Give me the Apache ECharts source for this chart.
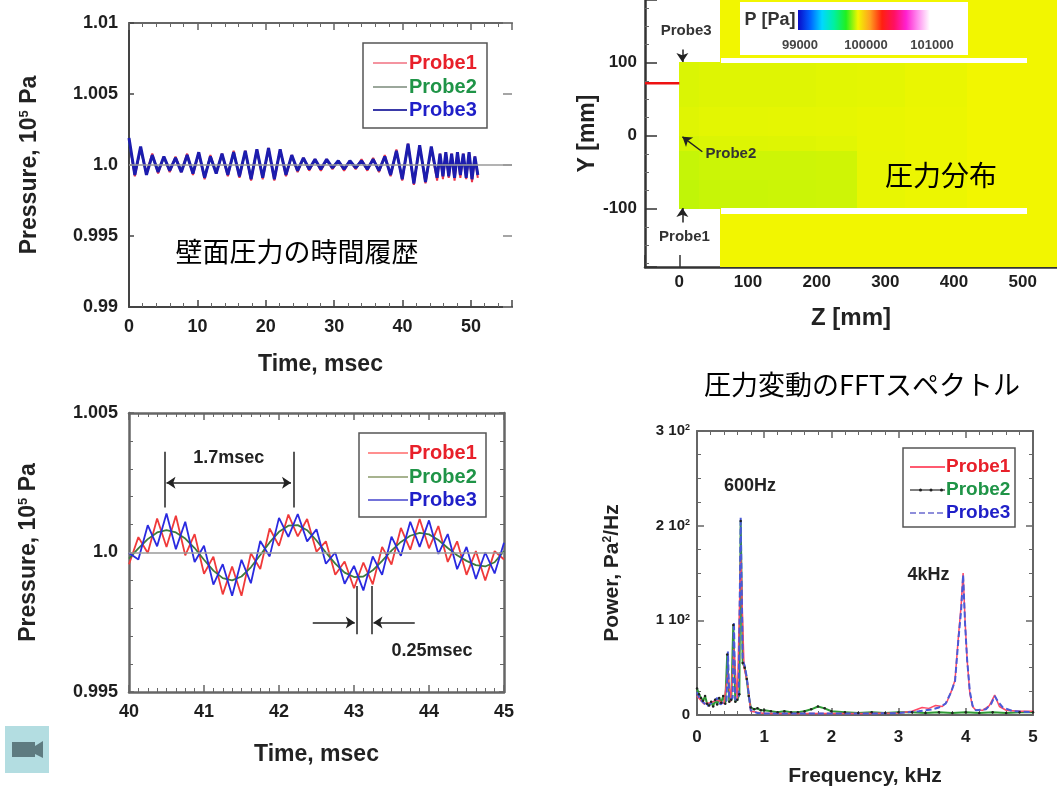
<!DOCTYPE html>
<html><head><meta charset="utf-8">
<script src="https://cdn.jsdelivr.net/npm/echarts@6/dist/echarts.min.js"></script>
<style>html,body{margin:0;padding:0;background:#fff}#c{width:1057px;height:794px}</style>
</head><body><div id="c"></div>
<script>
// ---------------- DATA ----------------
const probeNames = ['Probe1', 'Probe2', 'Probe3'];

// Panel 1: wall pressure history, 0-51 msec (x 10^5 Pa)
const timeTop = [0, 0.85, 1.7, 2.55, 3.4, 4.25, 5.1, 5.95, 6.8, 7.65, 8.5, 9.35, 10.2, 11.05, 11.9, 12.75, 13.6, 14.45, 15.3, 16.15, 17, 17.85, 18.7, 19.55, 20.4, 21.25, 22.1, 22.95, 23.8, 24.65, 25.5, 26.35, 27.2, 28.05, 28.9, 29.75, 30.6, 31.45, 32.3, 33.15, 34, 34.85, 35.7, 36.55, 37.4, 38.25, 39.1, 39.95, 40.8, 41.65, 42.5, 43.35, 44.2, 45.05, 45.475, 45.9, 46.325, 46.75, 47.175, 47.6, 48.025, 48.45, 48.875, 49.3, 49.725, 50.15, 50.575, 51];
const topProbe1 = [1.0018, 0.9992, 1.0012, 0.9994, 1.0008, 0.9994, 1.0006, 0.9995, 1.0006, 0.9995,
  1.0008, 0.9993, 1.0009, 0.9990, 1.0007, 0.9994, 1.0008, 0.9992, 1.0010, 0.9991,
  1.0010, 0.9989, 1.0011, 0.9990, 1.0012, 0.9989, 1.0011, 0.9992, 1.0007, 0.9995,
  1.0005, 0.9996, 1.0004, 0.9996, 1.0004, 0.9997, 1.0003, 0.9996, 1.0003, 0.9997,
  1.0004, 0.9996, 1.0005, 0.9995, 1.0007, 0.9992, 1.0011, 0.9989, 1.0015, 0.9986,
  1.0014, 0.9987, 1.0012, 0.9989, 1.0008, 0.9990, 1.0009, 0.9991, 1.0008, 0.9989,
  1.0009, 0.9991, 1.0008, 0.9990, 1.0009, 0.9988, 1.0006, 0.9991];
const topProbe2 = [1.0016, 0.9994, 1.0011, 0.9994, 1.0006, 0.9996, 1.0005, 0.9996, 1.0005, 0.9996,
  1.0006, 0.9995, 1.0008, 0.9992, 1.0006, 0.9995, 1.0007, 0.9994, 1.0008, 0.9993,
  1.0009, 0.9991, 1.0010, 0.9992, 1.0010, 0.9991, 1.0010, 0.9994, 1.0006, 0.9996,
  1.0004, 0.9997, 1.0003, 0.9997, 1.0003, 0.9998, 1.0003, 0.9997, 1.0003, 0.9998,
  1.0003, 0.9997, 1.0004, 0.9996, 1.0005, 0.9994, 1.0009, 0.9991, 1.0013, 0.9988,
  1.0012, 0.9989, 1.0011, 0.9992, 1.0006, 0.9993, 1.0007, 0.9994, 1.0006, 0.9993,
  1.0007, 0.9994, 1.0006, 0.9993, 1.0007, 0.9992, 1.0005, 0.9994];
const topProbe3 = [1.0019, 0.9993, 1.0013, 0.9993, 1.0007, 0.9995, 1.0006, 0.9996, 1.0005, 0.9995,
  1.0007, 0.9994, 1.0009, 0.9991, 1.0006, 0.9994, 1.0008, 0.9993, 1.0009, 0.9992,
  1.0010, 0.9990, 1.0011, 0.9991, 1.0012, 0.9990, 1.0011, 0.9993, 1.0007, 0.9996,
  1.0005, 0.9997, 1.0004, 0.9997, 1.0004, 0.9998, 1.0003, 0.9997, 1.0003, 0.9998,
  1.0003, 0.9997, 1.0004, 0.9996, 1.0006, 0.9993, 1.0010, 0.9990, 1.0015, 0.9987,
  1.0014, 0.9988, 1.0013, 0.9991, 1.0008, 0.9992, 1.0009, 0.9992, 1.0008, 0.9991,
  1.0009, 0.9993, 1.0008, 0.9991, 1.0009, 0.9990, 1.0006, 0.9993];
const topXTicks = [0, 10, 20, 30, 40, 50];
const topYTicks = [0.99, 0.995, 1.0, 1.005, 1.01];
const topYTickLabels = ['0.99', '0.995', '1.0', '1.005', '1.01'];

// Panel 2: zoomed history 40-45 msec
const timeZoom = [40, 40.125, 40.25, 40.375, 40.5, 40.625, 40.75, 40.875, 41, 41.125, 41.25, 41.375, 41.5, 41.625, 41.75, 41.875, 42, 42.125, 42.25, 42.375, 42.5, 42.625, 42.75, 42.875, 43, 43.125, 43.25, 43.375, 43.5, 43.625, 43.75, 43.875, 44, 44.125, 44.25, 44.375, 44.5, 44.625, 44.75, 44.875, 45];
const zoomProbe1 = [0.99958, 1.00055, 0.99998, 1.00122, 1.00020, 1.00132, 0.99990, 1.00066, 0.99924, 0.99985, 0.99850, 0.99950, 0.99845, 0.99997, 0.99941, 1.00086, 1.00024, 1.00136, 1.00058, 1.00120, 1.00003, 1.00040, 0.99920, 0.99968, 0.99872, 0.99964, 0.99886, 1.00020, 0.99957, 1.00088, 1.00010, 1.00120, 1.00015, 1.00095, 0.99966, 1.00040, 0.99920, 1.00005, 0.99900, 1.00005, 0.99975];
const zoomProbe2 = [0.99978, 1.00015, 1.00048, 1.00072, 1.00080, 1.00072, 1.00050, 1.00016, 0.99974, 0.99935, 0.99908, 0.99900, 0.99914, 0.99947, 0.99991, 1.00036, 1.00074, 1.00096, 1.00098, 1.00080, 1.00043, 1.00000, 0.99960, 0.99928, 0.99912, 0.99914, 0.99936, 0.99970, 1.00007, 1.00038, 1.00060, 1.00070, 1.00065, 1.00045, 1.00016, 0.99990, 0.99970, 0.99955, 0.99950, 0.99965, 1.00005];
const zoomProbe3 = [0.99998, 0.99975, 1.00098, 1.00022, 1.00140, 1.00012, 1.00110, 0.99966, 1.00024, 0.99885, 0.99958, 0.99845, 0.99974, 0.99890, 1.00041, 0.99986, 1.00124, 1.00056, 1.00138, 1.00040, 1.00083, 0.99960, 1.00000, 0.99888, 0.99952, 0.99864, 0.99986, 0.99920, 1.00057, 0.99988, 1.00110, 1.00020, 1.00115, 0.99995, 1.00066, 0.99940, 1.00020, 0.99905, 1.00000, 0.99925, 1.00035];
const zoomXTicks = [40, 41, 42, 43, 44, 45];
const zoomYTicks = [0.995, 1.0, 1.005];
const zoomYTickLabels = ['0.995', '1.0', '1.005'];
// annotation segments [t1, p1, t2, p2, startSymbol, endSymbol]
const periodGuides = [
  [40.47, 1.00361, 40.47, 1.00161, 'none', 'none'],
  [42.19, 1.00361, 42.19, 1.00161, 'none', 'none'],
  [40.50, 1.00250, 42.16, 1.00250, 'arrow', 'arrow'],
  [43.03, 0.99880, 43.03, 0.99707, 'none', 'none'],
  [43.24, 0.99880, 43.24, 0.99707, 'none', 'none'],
  [42.45, 0.99749, 43.01, 0.99749, 'none', 'arrow'],
  [43.81, 0.99749, 43.26, 0.99749, 'none', 'arrow']
];
const periodLabels = ['1.7msec', '0.25msec'];
const periodLabelT = [41.33, 44.04];
const periodLabelP = [1.00339, 0.99647];

// Panel 3: pressure distribution (Z [mm], Y [mm], P [Pa])
const zEdges = [0, 30, 60, 130, 200, 260, 330, 420, 505, 550];
const yEdges = [-180, -100, -60, -20, 0, 40, 100, 186];
const pressureRows = [
  [null, null, 99910, 99910, 99910, 99910, 99910, 99910, 99910],
  [99866, 99872, 99874, 99875, 99877, 99900, 99904, 99910, 99910],
  [99870, 99875, 99877, 99877, 99879, 99900, 99904, 99910, 99910],
  [99884, 99889, 99891, 99892, 99894, 99901, 99904, 99910, 99910],
  [99893, 99896, 99897, 99898, 99899, 99901, 99904, 99910, 99910],
  [99888, 99892, 99893, 99893, 99895, 99897, 99902, 99910, 99910],
  [null, null, 99910, 99910, 99910, 99910, 99910, 99910, 99910]
];
const wallCells = [[62, 505, 100, 106], [62, 505, -106, -100]]; // [z0, z1, y0, y1]
const inletLineZ = [-50, 0];
const inletLineY = [72, 72];
const zTicks = [0, 100, 200, 300, 400, 500];
const yTicks = [-100, 0, 100];
const probeArrows = [[4.4, 118, 4.4, 101], [4.4, -119, 4.4, -99], [33.5, -22, 4.5, -1.5]];
const probeLabelText = ['Probe3', 'Probe2', 'Probe1'];
const probeLabelZ = [10, 75, 7.5];
const probeLabelY = [144, -25, -138];
const colorbarTicks = [99000, 100000, 101000];
const pMin = 99000, pMax = 101000;

// Panel 4: FFT spectrum (kHz, Pa^2/Hz)
const fftFreqP1 = [0, 0.1, 0.2, 0.3, 0.4, 0.46, 0.5, 0.55, 0.6, 0.65, 0.7, 0.75, 0.8, 1.0, 1.5, 2.0, 2.5, 3.0, 3.2, 3.35, 3.45, 3.55, 3.65, 3.72, 3.79, 3.84, 3.89, 3.93, 3.96, 3.99, 4.02, 4.06, 4.1, 4.15, 4.25, 4.35, 4.43, 4.5, 4.6, 4.8, 5.0];
const fftPowerP1 = [20, 12, 13, 16, 12, 45, 14, 70, 15, 170, 50, 35, 4, 1.5, 1.5, 1.5, 1.5, 2, 4, 8, 7, 10, 9, 14, 26, 37, 83, 115, 150, 98, 58, 23, 9, 5, 5, 10, 21, 9, 5, 4, 4];
const fftFreqP2 = [0, 0.03, 0.06, 0.09, 0.12, 0.15, 0.18, 0.21, 0.24, 0.27, 0.3, 0.33, 0.36, 0.39, 0.42, 0.45, 0.48, 0.51, 0.54, 0.57, 0.6, 0.63, 0.65, 0.68, 0.71, 0.74, 0.77, 0.8, 0.85, 0.9, 0.95, 1.0, 1.1, 1.2, 1.3, 1.4, 1.5, 1.6, 1.7, 1.8, 1.9, 2.0, 2.2, 2.4, 2.6, 2.8, 3.0, 3.2, 3.4, 3.6, 3.8, 4.0, 4.2, 4.4, 4.6, 4.8, 5.0];
const fftPowerP2 = [28, 22, 18, 15, 20, 12, 10, 14, 9, 16, 11, 18, 13, 20, 12, 64, 14, 16, 95, 14, 16, 22, 205, 55, 50, 38, 20, 8, 6, 7, 5, 5, 4, 3, 4, 3, 3, 4, 6, 9, 7, 4, 3, 2, 3, 2, 3, 3, 2, 3, 2, 3, 2, 3, 2, 3, 3];
const fftFreqP3 = [0, 0.05, 0.1, 0.15, 0.2, 0.25, 0.3, 0.35, 0.4, 0.44, 0.46, 0.48, 0.5, 0.53, 0.55, 0.57, 0.6, 0.62, 0.65, 0.68, 0.71, 0.74, 0.77, 0.8, 0.9, 1.0, 1.5, 2.0, 2.5, 3.0, 3.3, 3.5, 3.6, 3.7, 3.78, 3.84, 3.89, 3.93, 3.96, 3.99, 4.02, 4.06, 4.1, 4.15, 4.3, 4.38, 4.43, 4.48, 4.55, 4.7, 5.0];
const fftPowerP3 = [24, 16, 13, 9, 12, 14, 18, 11, 14, 15, 67, 16, 15, 18, 98, 16, 16, 20, 209, 58, 52, 40, 22, 5, 2, 1.5, 1.5, 1.5, 1.5, 2, 4, 6, 8, 12, 24, 36, 80, 110, 148, 95, 58, 25, 10, 5, 6, 12, 20, 14, 8, 4, 3];
const fftXTicks = [0, 1, 2, 3, 4, 5];
const fftYTicks = [0, 100, 200, 300];
const fftYTickLabels = ['0', '1 10{s|2}', '2 10{s|2}', '3 10{s|2}'];
const peakLabels = ['600Hz', '4kHz'];
const peakLabelF = [0.79, 3.445];
const peakLabelP = [242, 148];

// ---------------- STYLE / HELPERS ----------------
const FONT = "'Liberation Sans', Arial, Helvetica, sans-serif";
const JP = "'Noto Sans CJK JP', 'Noto Sans CJK SC', sans-serif";
const pressureColors = ['#0a0ac8', '#0060ff', '#00d8ff', '#00f0a0', '#20f020', '#f2f600', '#ffa020', '#ff2010', '#ff1060', '#ff20d0', '#ff90f0', '#ffffff'];

const zip = (xs, ys) => xs.map((x, i) => [x, ys[i]]);
const fromList = (ticks, labels) => v => {
  const i = ticks.findIndex(t => Math.abs(t - v) < 1e-7);
  return i >= 0 ? (labels ? labels[i] : String(ticks[i])) : '';
};
const bold = (size, extra) => Object.assign({ fontFamily: FONT, fontWeight: 'bold', fontSize: size, color: '#1e1e1e' }, extra || {});

function axis(o) {
  const base = {
    type: 'value', splitLine: { show: false },
    axisLine: { show: true, onZero: false, lineStyle: { color: o.lineColor || '#444', width: o.lineWidth || 2 } },
    axisTick: { show: true, inside: true, length: o.tickLen || 7, lineStyle: { color: o.lineColor || '#444', width: 1.5 } },
    minorTick: { show: !!o.minor, splitNumber: o.minor || 5, length: 4, lineStyle: { color: '#666', width: 1 } },
    axisLabel: o.labels ? Object.assign(bold(o.labelSize || 18), { margin: o.margin || 10, formatter: o.labels }, o.labelExtra || {}) : { show: false }
  };
  const out = Object.assign(base, o.spec);
  if (o.noLine) out.axisLine.show = false;
  return out;
}

function legendBox(box, rows, font, lineX1, lineX2, textX) {
  const els = [{ type: 'rect', z: 100, shape: { x: box[0], y: box[1], width: box[2], height: box[3] }, style: { fill: '#fff', stroke: '#555', lineWidth: 1.5 } }];
  rows.forEach(r => {
    els.push({ type: 'line', z: 101, shape: { x1: lineX1, y1: r.y, x2: lineX2, y2: r.y }, style: { stroke: r.line, lineWidth: r.w || 1.5, lineDash: r.dash || null } });
    if (r.dots) {
      [0.3, 0.6, 0.9].forEach(f => els.push({ type: 'circle', z: 102, shape: { cx: lineX1 + (lineX2 - lineX1) * f, cy: r.y, r: 1.5 }, style: { fill: '#222' } }));
    }
    els.push({ type: 'text', z: 101, x: textX, y: r.y, style: { text: r.name, fill: r.color, font: font, align: 'left', textAlign: 'left', verticalAlign: 'middle', textVerticalAlign: 'middle' } });
  });
  return els;
}
function jpText(text, x, y, size) {
  return { type: 'text', z: 110, x: x, y: y, style: { text: text, fill: '#000', font: size + 'px ' + JP, align: 'center', textAlign: 'center', verticalAlign: 'middle', textVerticalAlign: 'middle' } };
}

// contour cells built from the edge/pressure tables
const cells = [];
pressureRows.forEach((row, r) => row.forEach((p, c) => {
  if (p != null) cells.push([zEdges[c], zEdges[c + 1], yEdges[r], yEdges[r + 1], p]);
}));
function cellRect(api, fill) {
  const a = api.coord([api.value(0), api.value(3)]);
  const b = api.coord([api.value(1), api.value(2)]);
  const x0 = Math.floor(a[0]), y0 = Math.floor(a[1]), x1 = Math.ceil(b[0]), y1 = Math.ceil(b[1]);
  return { type: 'rect', shape: { x: x0, y: y0, width: x1 - x0, height: y1 - y0 }, style: { fill: fill } };
}

const refLine = v => ({ silent: true, symbol: ['none', 'none'], label: { show: false }, emphasis: { disabled: true },
  lineStyle: { color: '#9a9a9a', width: 1.5, type: 'solid' }, data: [{ yAxis: v }] });
const segLines = (segs, color, width) => ({ silent: true, symbolSize: 9, label: { show: false }, emphasis: { disabled: true },
  lineStyle: { color: color, width: width, type: 'solid' },
  data: segs.map(s => [{ coord: [s[0], s[1]], symbol: s[4] || 'none' }, { coord: [s[2], s[3]], symbol: s[5] || 'arrow' }]) });
const textPoints = (names, xs, ys, size, color) => ({ silent: true, symbol: 'circle', symbolSize: 0, itemStyle: { color: 'rgba(0,0,0,0)' },
  label: { show: true, position: 'inside', formatter: '{b}', fontFamily: FONT, fontWeight: 'bold', fontSize: size, color: color },
  data: names.map((n, i) => ({ name: n, coord: [xs[i], ys[i]] })) });

const nameStyle = (size) => Object.assign(bold(size, { color: '#222' }), {
  rich: { s: { fontFamily: FONT, fontWeight: 'bold', fontSize: Math.round(size * 0.55), color: '#222', verticalAlign: 'top', lineHeight: 10 } }
});

// ---------------- OPTION ----------------
const chart = echarts.init(document.getElementById('c'), null, { renderer: 'canvas' });
const option = {
  animation: false,
  backgroundColor: '#fff',
  grid: [
    { left: 129, top: 23, width: 383, height: 284, outerBoundsMode: 'none' },
    { left: 129, top: 413, width: 375, height: 279, outerBoundsMode: 'none' },
    { left: 645, top: 0, width: 412, height: 267, outerBoundsMode: 'none' },
    { left: 697, top: 431, width: 336, height: 284, outerBoundsMode: 'none' }
  ],
  xAxis: [
    axis({ labels: fromList(topXTicks), margin: 11, minor: 5, spec: { gridIndex: 0, position: 'bottom', min: 0, max: 56, interval: 10,
      name: 'Time, msec', nameLocation: 'middle', nameGap: 46, nameTextStyle: nameStyle(23) } }),
    axis({ minor: 5, lineColor: '#666', spec: { gridIndex: 0, position: 'top', min: 0, max: 56, interval: 10 } }),
    axis({ labels: fromList(zoomXTicks), margin: 11, minor: 8, lineColor: '#666', lineWidth: 2.5, spec: { gridIndex: 1, position: 'bottom', min: 40, max: 45, interval: 1,
      name: 'Time, msec', nameLocation: 'middle', nameGap: 51, nameTextStyle: nameStyle(23) } }),
    axis({ minor: 8, lineColor: '#666', lineWidth: 2.5, spec: { gridIndex: 1, position: 'top', min: 40, max: 45, interval: 1 } }),
    axis({ labels: fromList(zTicks), labelSize: 17, margin: 7, tickLen: 12, lineColor: '#333', lineWidth: 2.5, spec: { gridIndex: 2, position: 'bottom', min: -50, max: 550,
      name: 'Z [mm]', nameLocation: 'middle', nameGap: 39, nameTextStyle: nameStyle(24) } }),
    axis({ labels: fromList(fftXTicks), labelSize: 17, margin: 14, minor: 5, lineColor: '#666', spec: { gridIndex: 3, position: 'bottom', min: 0, max: 5, interval: 1,
      name: 'Frequency, kHz', nameLocation: 'middle', nameGap: 51, nameTextStyle: nameStyle(21) } }),
    axis({ minor: 5, lineColor: '#666', spec: { gridIndex: 3, position: 'top', min: 0, max: 5, interval: 1 } })
  ],
  yAxis: [
    axis({ labels: fromList(topYTicks, topYTickLabels), margin: 11, tickLen: 5, spec: { gridIndex: 0, position: 'left', min: 0.99, max: 1.01, interval: 0.005,
      name: 'Pressure, 10{s|5} Pa', nameLocation: 'middle', nameGap: 88, nameTextStyle: nameStyle(23) } }),
    axis({ noLine: true, tickLen: 9, lineColor: '#888', spec: { gridIndex: 0, position: 'right', min: 0.99, max: 1.01, interval: 0.005 } }),
    axis({ labels: fromList(zoomYTicks, zoomYTickLabels), margin: 11, tickLen: 5, minor: 5, lineColor: '#666', lineWidth: 2.5, spec: { gridIndex: 1, position: 'left', min: 0.995, max: 1.005, interval: 0.005,
      name: 'Pressure, 10{s|5} Pa', nameLocation: 'middle', nameGap: 89, nameTextStyle: nameStyle(23) } }),
    axis({ tickLen: 5, minor: 5, lineColor: '#666', lineWidth: 2.5, spec: { gridIndex: 1, position: 'right', min: 0.995, max: 1.005, interval: 0.005 } }),
    axis({ labels: fromList(yTicks), labelSize: 17, margin: 8, tickLen: 12, minor: 4, lineColor: '#333', lineWidth: 2.5, spec: { gridIndex: 2, position: 'left', min: -180, max: 186,
      name: 'Y [mm]', nameLocation: 'middle', nameGap: 46, nameTextStyle: nameStyle(23) } }),
    axis({ labels: fromList(fftYTicks, fftYTickLabels), labelSize: 15, margin: 7, minor: 4, lineColor: '#666',
      labelExtra: { rich: { s: { fontFamily: FONT, fontWeight: 'bold', fontSize: 9, color: '#1e1e1e', verticalAlign: 'top', lineHeight: 9 } } },
      spec: { gridIndex: 3, position: 'left', min: 0, max: 300, interval: 100,
      name: 'Power, Pa{s|2}/Hz', nameLocation: 'middle', nameGap: 74, nameTextStyle: nameStyle(21) } }),
    axis({ minor: 4, lineColor: '#666', spec: { gridIndex: 3, position: 'right', min: 0, max: 300, interval: 100 } })
  ],
  visualMap: [{ type: 'continuous', show: false, seriesIndex: 6, dimension: 4, min: pMin, max: pMax, inRange: { color: pressureColors } }],
  series: [
    // panel 1
    { name: probeNames[0], type: 'line', xAxisIndex: 0, yAxisIndex: 0, data: zip(timeTop, topProbe1), symbol: 'none', lineStyle: { color: '#e8334a', width: 2 }, markLine: refLine(1.0) },
    { name: probeNames[1], type: 'line', xAxisIndex: 0, yAxisIndex: 0, data: zip(timeTop, topProbe2), symbol: 'none', lineStyle: { color: '#2e8b3a', width: 2 } },
    { name: probeNames[2], type: 'line', xAxisIndex: 0, yAxisIndex: 0, data: zip(timeTop, topProbe3), symbol: 'none', lineStyle: { color: '#1c1cae', width: 3 } },
    // panel 2
    { name: probeNames[0], type: 'line', xAxisIndex: 2, yAxisIndex: 2, data: zip(timeZoom, zoomProbe1), symbol: 'none', lineStyle: { color: '#f03a3a', width: 1.8 }, markLine: refLine(1.0) },
    { name: probeNames[1], type: 'line', xAxisIndex: 2, yAxisIndex: 2, data: zip(timeZoom, zoomProbe2), symbol: 'none', lineStyle: { color: '#3d7a3d', width: 1.8 } },
    { name: probeNames[2], type: 'line', xAxisIndex: 2, yAxisIndex: 2, data: zip(timeZoom, zoomProbe3), symbol: 'none', lineStyle: { color: '#2a2ae0', width: 1.8 },
      markLine: segLines(periodGuides, '#222', 1.5), markPoint: textPoints(periodLabels, periodLabelT, periodLabelP, 18, '#222') },
    // panel 3
    { name: 'P', type: 'custom', xAxisIndex: 4, yAxisIndex: 4, data: cells, encode: { x: [0, 1], y: [2, 3] }, clip: true,
      renderItem: (params, api) => cellRect(api, api.visual('color')) },
    { name: 'wall', type: 'custom', xAxisIndex: 4, yAxisIndex: 4, data: wallCells, encode: { x: [0, 1], y: [2, 3] }, clip: true,
      renderItem: (params, api) => cellRect(api, '#ffffff') },
    { name: 'inlet', type: 'line', xAxisIndex: 4, yAxisIndex: 4, data: zip(inletLineZ, inletLineY), symbol: 'none', lineStyle: { color: '#ee1111', width: 2.5 },
      markLine: segLines(probeArrows, '#222', 1.5), markPoint: textPoints(probeLabelText, probeLabelZ, probeLabelY, 15, '#333') },
    // panel 4
    { name: probeNames[1], type: 'line', xAxisIndex: 5, yAxisIndex: 5, data: zip(fftFreqP2, fftPowerP2), symbol: 'circle', symbolSize: 2.5, showSymbol: true,
      itemStyle: { color: '#222' }, lineStyle: { color: '#2f9a35', width: 2 } },
    { name: probeNames[0], type: 'line', xAxisIndex: 5, yAxisIndex: 5, data: zip(fftFreqP1, fftPowerP1), symbol: 'none', lineStyle: { color: '#ff4a66', width: 1.5 },
      markPoint: textPoints(peakLabels, peakLabelF, peakLabelP, 18, '#222') },
    { name: probeNames[2], type: 'line', xAxisIndex: 5, yAxisIndex: 5, data: zip(fftFreqP3, fftPowerP3), symbol: 'none', lineStyle: { color: '#4a5ad8', width: 2, type: [6, 3] } }
  ],
  graphic: { elements: [] }
};

// legends
const g = option.graphic.elements;
const f20 = 'bold 20px ' + FONT, f19 = 'bold 19px ' + FONT;
g.push(...legendBox([363, 43, 124, 85], [
  { y: 63, name: probeNames[0], color: '#e8202a', line: '#f07080' },
  { y: 87, name: probeNames[1], color: '#1f9447', line: '#7a8a7a' },
  { y: 110, name: probeNames[2], color: '#1f1fc8', line: '#3a3aa8', w: 2 }
], f20, 373, 407, 409));
g.push(...legendBox([359, 433, 127, 84], [
  { y: 453, name: probeNames[0], color: '#e8202a', line: '#ff6a6a' },
  { y: 477, name: probeNames[1], color: '#1f9447', line: '#8a9a6a' },
  { y: 500, name: probeNames[2], color: '#1f1fc8', line: '#4444cc' }
], f20, 368, 408, 409));
g.push(...legendBox([903, 448, 112, 79], [
  { y: 467, name: probeNames[0], color: '#e8202a', line: '#ff5a70', w: 2 },
  { y: 490, name: probeNames[1], color: '#1f9447', line: '#555', dots: true },
  { y: 513, name: probeNames[2], color: '#1f1fc8', line: '#6a6ad0', dash: [6, 3] }
], f19, 910, 945, 946));

// colour bar legend of the pressure map
const barX = 798, barY = 10, barW = 132, barH = 20;
g.push({ type: 'rect', z: 100, shape: { x: 740, y: 2, width: 228, height: 53 }, style: { fill: '#fff' } });
g.push({ type: 'text', z: 101, x: 770, y: 20, style: { text: 'P [Pa]', fill: '#333', font: 'bold 18px ' + FONT, align: 'center', textAlign: 'center', verticalAlign: 'middle', textVerticalAlign: 'middle' } });
g.push({ type: 'rect', z: 101, shape: { x: barX, y: barY, width: barW, height: barH },
  style: { fill: new echarts.graphic.LinearGradient(0, 0, 1, 0, pressureColors.map((c, i) => ({ offset: i / (pressureColors.length - 1), color: c }))) } });
colorbarTicks.forEach(v => g.push({ type: 'text', z: 101, x: barX + (v - pMin) / (pMax - pMin) * barW + 2, y: 45,
  style: { text: String(v), fill: '#444', font: 'bold 13px ' + FONT, align: 'center', textAlign: 'center', verticalAlign: 'middle', textVerticalAlign: 'middle' } }));

// Japanese captions
g.push(jpText('壁面圧力の時間履歴', 297, 252, 27));
g.push(jpText('圧力分布', 941, 175, 28));
g.push(jpText('圧力変動のFFTスペクトル', 862, 385, 27));

// small camera icon
g.push({ type: 'rect', z: 100, shape: { x: 5, y: 726, width: 44, height: 47 }, style: { fill: '#b3dde1' } });
g.push({ type: 'rect', z: 101, shape: { x: 12, y: 742, width: 23, height: 15 }, style: { fill: '#5e7b80' } });
g.push({ type: 'polygon', z: 101, shape: { points: [[35, 746], [43, 741], [43, 758], [35, 754]] }, style: { fill: '#5e7b80' } });

chart.setOption(option);
</script></body></html>
